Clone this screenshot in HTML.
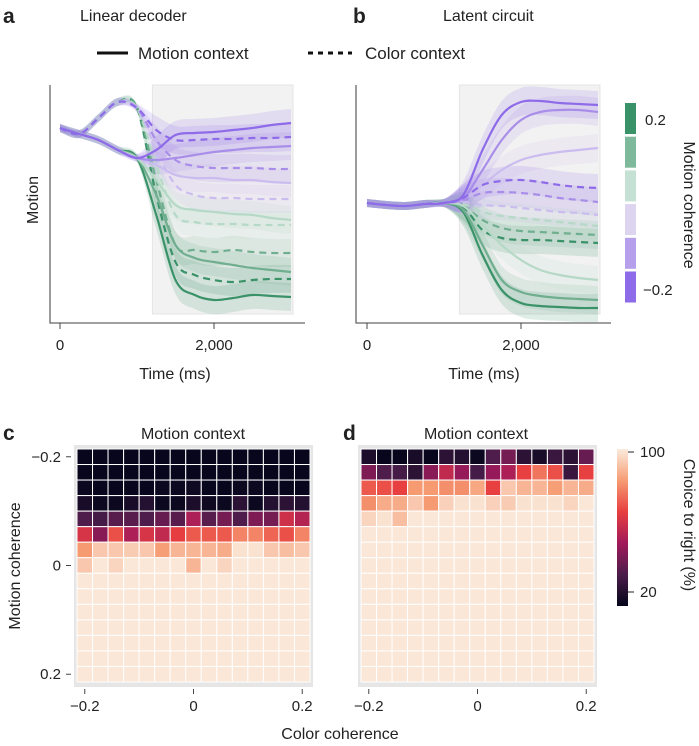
<!DOCTYPE html>
<html><head><meta charset="utf-8"><style>
body{margin:0;background:#fff;}
svg text{font-family:"Liberation Sans",sans-serif;fill:#222;}
</style></head><body>
<svg id="fig" width="699" height="741" viewBox="0 0 699 741" xmlns="http://www.w3.org/2000/svg">
<defs>
<linearGradient id="cbgrad" x1="0" y1="1" x2="0" y2="0">
<stop offset="0" stop-color="#03051a"/><stop offset="0.2" stop-color="#4c1d4b"/><stop offset="0.4" stop-color="#a11a5b"/><stop offset="0.6" stop-color="#e83f3f"/><stop offset="0.8" stop-color="#f69c73"/><stop offset="1" stop-color="#faebdd"/>
</linearGradient>
</defs>
<g>
<text x="3" y="23" font-size="21" font-weight="bold">a</text>
<text x="353" y="23" font-size="21" font-weight="bold">b</text>
<text x="3" y="440" font-size="21" font-weight="bold">c</text>
<text x="343" y="440" font-size="21" font-weight="bold">d</text>
</g>
<text x="80" y="21" font-size="16">Linear decoder</text>
<text x="443" y="21" font-size="16">Latent circuit</text>
<g>
<line x1="97" y1="53" x2="128" y2="53" stroke="#111" stroke-width="3"/>
<text x="138" y="59" font-size="17">Motion context</text>
<line x1="308" y1="53" x2="352" y2="53" stroke="#111" stroke-width="3" stroke-dasharray="5,5"/>
<text x="365" y="59" font-size="17">Color context</text>
</g>
<g id="pa"></g>
<g id="pb"></g>
<g id="pc"></g>
<g id="pd"></g>
<text transform="translate(38,200) rotate(-90)" text-anchor="middle" font-size="16">Motion</text>
<text x="175" y="379" text-anchor="middle" font-size="16">Time (ms)</text>
<text x="484" y="379" text-anchor="middle" font-size="16">Time (ms)</text>
<g id="legcb"></g>
<text x="645" y="125" font-size="15">0.2</text>
<text x="643" y="295" font-size="15">−0.2</text>
<text transform="translate(684,205) rotate(90)" text-anchor="middle" font-size="16">Motion coherence</text>
<text x="193" y="439" text-anchor="middle" font-size="16">Motion context</text>
<text x="476" y="439" text-anchor="middle" font-size="16">Motion context</text>
<text transform="translate(20,566) rotate(-90)" text-anchor="middle" font-size="16">Motion coherence</text>
<text x="340" y="739" text-anchor="middle" font-size="16">Color coherence</text>
<rect x="617" y="449" width="11" height="157" fill="url(#cbgrad)"/>
<line x1="628" y1="452" x2="634" y2="452" stroke="#222"/>
<line x1="628" y1="592" x2="634" y2="592" stroke="#222"/>
<text x="640" y="457" font-size="15">100</text>
<text x="640" y="597" font-size="15">20</text>
<text transform="translate(684,525) rotate(90)" text-anchor="middle" font-size="16">Choice to right (%)</text>
</svg>
<script>
const NS='http://www.w3.org/2000/svg';
const times=[0,250,500,750,1000,1250,1500,1750,2000,2250,2500,2750,3000];
const coherenceLevels=['-0.2','-0.13','-0.05','0.05','0.13','0.2'];
const timeTicks=[0,2000];
const timeTickLabels=['0','2,000'];
// Panel a: linear decoder (motion axis projection)
const aMotion0=[172,166,160,150,142,150,165,167,168,170,172,175,177];
const aMotion1=[172,166,160,150,142,140,142,145,148,150,152,153,154];
const aMotion2=[172,166,160,150,142,135,125,122,122,120,120,118,117];
const aMotion3=[172,166,160,150,142,120,95,90,88,86,85,82,80];
const aMotion4=[172,166,160,150,142,105,55,42,38,35,32,30,28];
const aMotion5=[172,166,160,150,142,85,20,5,0,2,5,4,3];
const aColor0=[172,166,182,198,192,170,160,160,161,161,162,162,163];
const aColor1=[172,166,182,198,192,160,140,134,132,132,132,131,131];
const aColor2=[172,166,182,198,192,150,115,105,102,102,101,101,101];
const aColor3=[172,166,182,198,192,135,85,78,76,76,75,75,75];
const aColor4=[172,166,182,198,192,120,55,50,48,50,48,47,47];
const aColor5=[172,166,182,198,192,105,38,25,20,18,20,21,21];
// Panel b: latent circuit
const bMotion0=[97,95,94,96,97,105,150,185,198,199,197,196,195];
const bMotion1=[97,95,94,96,97,102,130,160,180,188,190,190,188];
const bMotion2=[97,95,94,96,97,100,115,130,140,145,148,150,152];
const bMotion3=[97,95,94,96,97,94,75,55,40,30,25,22,20];
const bMotion4=[97,95,94,96,97,90,55,20,8,4,2,1,0];
const bMotion5=[97,95,94,96,97,88,45,10,-3,-6,-7,-8,-8];
const bColor0=[97,95,94,96,97,102,115,119,120,118,115,113,112];
const bColor1=[97,95,94,96,97,100,107,108,107,105,102,100,98];
const bColor2=[97,95,94,96,97,98,95,94,92,90,88,87,85];
const bColor3=[97,95,94,96,97,96,88,84,82,80,78,76,74];
const bColor4=[97,95,94,96,97,94,80,72,69,68,67,66,65];
const bColor5=[97,95,94,96,97,93,70,62,60,60,59,58,57];
// Heatmap c (choice to right %), rows motion -0.2..0.2, cols color -0.2..0.2
const heatC=[
[13,13,13,13,13,13,13,13,13,13,13,13,13,13,13],
[13,13,13,13,13,13,13,13,13,13,13,13,13,13,13],
[14,13,13,13,13,14,14,15,13,13,14,14,13,13,13],
[17,14,14,17,20,14,14,18,15,14,22,14,20,22,20],
[30,28,32,32,30,35,32,50,32,38,30,40,38,58,52],
[60,42,68,50,60,55,64,70,70,70,78,78,72,68,78],
[82,92,92,93,92,83,88,88,88,86,98,98,92,90,92],
[92,99,95,99,99,99,99,88,99,95,99,99,99,99,99],
[99,99,99,99,99,99,99,99,99,99,99,99,99,99,99],
[99,99,99,99,99,99,99,99,99,99,99,99,99,99,99],
[99,99,99,99,99,99,99,99,99,99,99,99,99,99,99],
[99,99,99,99,99,99,99,99,99,99,99,99,99,99,99],
[99,99,99,99,99,99,99,99,99,99,99,99,99,99,99],
[99,99,99,99,99,99,99,99,99,99,99,99,99,99,99],
[99,99,99,99,99,99,99,99,99,99,99,99,99,99,99]];
const heatD=[
[18,13,13,17,13,22,20,14,30,38,22,17,25,22,35],
[40,30,28,22,42,55,45,28,45,50,65,75,68,25,65],
[70,68,65,82,82,80,80,85,65,92,88,88,83,88,86],
[80,86,86,92,82,94,98,98,94,93,98,98,98,95,99],
[95,98,90,99,99,99,99,99,99,99,99,99,99,99,99],
[99,99,99,99,99,99,99,99,99,99,99,99,99,99,99],
[99,99,99,99,99,99,99,99,99,99,99,99,99,99,99],
[99,99,99,99,99,99,99,99,99,99,99,99,99,99,99],
[99,99,99,99,99,99,99,99,99,99,99,99,99,99,99],
[99,99,99,99,99,99,99,99,99,99,99,99,99,99,99],
[99,99,99,99,99,99,99,99,99,99,99,99,99,99,99],
[99,99,99,99,99,99,99,99,99,99,99,99,99,99,99],
[99,99,99,99,99,99,99,99,99,99,99,99,99,99,99],
[99,99,99,99,99,99,99,99,99,99,99,99,99,99,99],
[99,99,99,99,99,99,99,99,99,99,99,99,99,99,99]];
const coherenceTicks=['−0.2','0','0.2'];
const coherenceTickIdx=[0,7,14];

const traceColors=['#8e6be8','#a98ee9','#cbbcef','#b5d9c6','#6fae8e','#3a9268'];
function mk(tag,attrs,parent){const e=document.createElementNS(NS,tag);for(const k in attrs)e.setAttribute(k,attrs[k]);parent.appendChild(e);return e;}
function smooth(pts){let d='M'+pts[0][0]+','+pts[0][1];for(let i=0;i<pts.length-1;i++){const p0=pts[i-1]||pts[i],p1=pts[i],p2=pts[i+1],p3=pts[i+2]||p2;
const c1=[p1[0]+(p2[0]-p0[0])/6,p1[1]+(p2[1]-p0[1])/6],c2=[p2[0]-(p3[0]-p1[0])/6,p2[1]-(p3[1]-p1[1])/6];
d+=' C'+c1[0]+','+c1[1]+' '+c2[0]+','+c2[1]+' '+p2[0]+','+p2[1];}return d;}

function linePanel(g,axX,x0px,motion,color,name){
  const xs=t=>x0px+t*0.077;
  const ys=v=>300-v;
  const shade=mk('rect',{x:xs(1200),y:85,width:xs(3000)-xs(1200)+2,height:229,fill:'#f2f2f2',stroke:'#e4e4e4'},g);
  
  
  const all=[];
  for(let i=5;i>=0;i--){all.push({s:motion[i],i,dash:false});all.push({s:color[i],i,dash:true});}
  all.forEach(o=>{
    const up=o.s.map((v,k)=>[xs(times[k]),ys(v)-(times[k]>1200?14:4)]);
    const dn=o.s.map((v,k)=>[xs(times[k]),ys(v)+(times[k]>1200?14:4)]).reverse();
    const d=smooth(up)+' L'+dn[0][0]+','+dn[0][1]+smooth(dn).replace(/^M[^C]*/,'')+'Z';
    const b=mk('path',{d,fill:traceColors[o.i],'fill-opacity':0.16,stroke:'none'},g);
    
    
  });
  all.forEach(o=>{
    const pts=o.s.map((v,k)=>[xs(times[k]),ys(v)]);
    const p=mk('path',{d:smooth(pts),fill:'none',stroke:traceColors[o.i],'stroke-width':2.2},g);
    if(o.dash)p.setAttribute('stroke-dasharray','7,5');
    
    
  });
  const ax=mk('path',{d:`M${axX},85 V323 H${axX+255}`,fill:'none',stroke:'#666','stroke-width':1.3},g);
  
  
  timeTicks.forEach((t,i)=>{
    const tk=mk('line',{x1:xs(t),x2:xs(t),y1:323,y2:329,stroke:'#444'},g);
    
    
    const tl=mk('text',{x:xs(t),y:350,'text-anchor':'middle','font-size':15},g);
    tl.textContent=timeTickLabels[i];
    
    
  });
}
linePanel(document.getElementById('pa'),50,60,[aMotion0,aMotion1,aMotion2,aMotion3,aMotion4,aMotion5],[aColor0,aColor1,aColor2,aColor3,aColor4,aColor5],'panel-a');
linePanel(document.getElementById('pb'),356,367,[bMotion0,bMotion1,bMotion2,bMotion3,bMotion4,bMotion5],[bColor0,bColor1,bColor2,bColor3,bColor4,bColor5],'panel-b');

// legend colorbar
const legColors=['#3a9268','#7fb99b','#c5e1d3','#ddd4f0','#b6a0ec','#8e6be8'];
const lg=document.getElementById('legcb');
legColors.forEach((c,i)=>{
  const r=mk('rect',{x:625,y:103+i*33.7,width:11,height:31,fill:c},lg);
  
  
});

const stops=[[3,5,26],[76,29,75],[161,26,91],[232,63,63],[246,156,115],[250,235,221]];
function rocket(v){let t=Math.max(0,Math.min(1,(v-12)/88))*5;const i=Math.min(4,Math.floor(t)),f=t-i;const a=stops[i],b=stops[i+1];
return 'rgb('+a.map((c,k)=>Math.round(c+(b[k]-c)*f)).join(',')+')';}
function heat(g,x0,data,name,showY){
  const w=233/15,y0=449;
  const bg=mk('rect',{x:x0-3,y:y0-4,width:239,height:242,fill:'#e6e6e6'},g);
  
  
  data.forEach((row,r)=>row.forEach((v,c)=>{
    const cell=mk('rect',{x:x0+c*w,y:y0+r*w,width:w,height:w,fill:rocket(v),stroke:'#fff','stroke-width':1},g);
    
    
  }));
  coherenceTickIdx.forEach((idx,i)=>{
    const cx=x0+(idx+0.5)*w;
    const t=mk('line',{x1:cx,x2:cx,y1:689,y2:694,stroke:'#444'},g);
    
    
    const l=mk('text',{x:cx,y:711,'text-anchor':'middle','font-size':15},g);
    l.textContent=coherenceTicks[i];
    
    
    if(showY){
      const cy=y0+(idx+0.5)*w;
      const yt=mk('line',{x1:66,x2:71,y1:cy,y2:cy,stroke:'#444'},g);
      
      
      const yl=mk('text',{x:61,y:cy+5,'text-anchor':'end','font-size':15},g);
      yl.textContent=coherenceTicks[i];
      
      
    }
  });
}
heat(document.getElementById('pc'),77,heatC,'heatmap-c',true);
heat(document.getElementById('pd'),361,heatD,'heatmap-d',false);
</script>
</body></html>
